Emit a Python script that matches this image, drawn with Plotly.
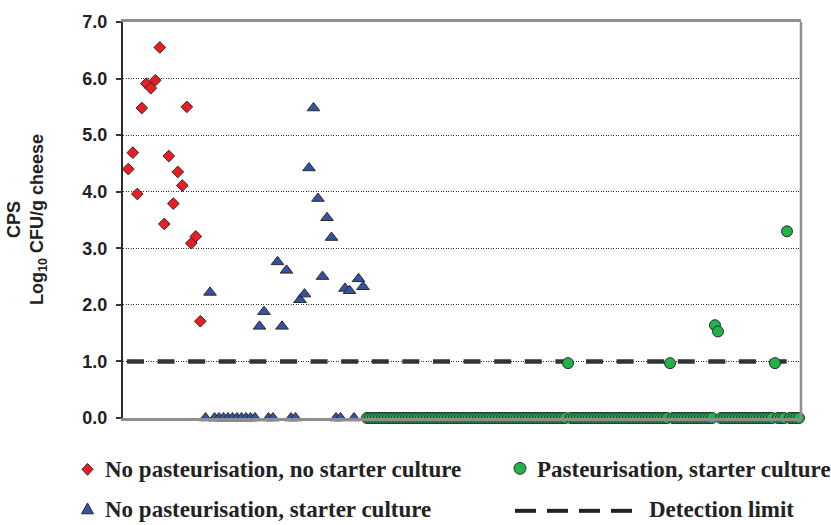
import plotly.graph_objects as go

# CPS counts (log10 CFU/g cheese) for each cheese sample, in sample order
no_past_no_starter = [4.40, 4.69, 3.96, 5.48, 5.91, 5.83, 5.97, 6.55, 3.43,
                      4.63, 3.79, 4.35, 4.11, 5.50, 3.09, 3.21, 1.71]

no_past_starter = [0.00, 2.22, 0.00, 0.00, 0.00, 0.00, 0.00, 0.00, 0.00, 0.00,
                   0.00, 0.00, 1.62, 1.88, 0.00, 0.00, 2.76, 1.62, 2.61, 0.00,
                   0.00, 2.09, 2.19, 4.42, 5.48, 3.88, 2.50, 3.54, 3.19, 0.00,
                   0.00, 2.29, 2.25, 0.00, 2.46, 2.32]

past_starter = [0.00, 0.00, 0.00, 0.00, 0.00, 0.00, 0.00, 0.00, 0.00, 0.00,
                0.00, 0.00, 0.00, 0.00, 0.00, 0.00, 0.00, 0.00, 0.00, 0.00,
                0.00, 0.00, 0.00, 0.00, 0.00, 0.00, 0.00, 0.00, 0.00, 0.00,
                0.00, 0.00, 0.00, 0.00, 0.00, 0.00, 0.00, 0.00, 0.00, 0.00,
                0.00, 0.00, 0.00, 0.00, 0.00, 0.00, 0.00, 0.00, 0.00, 0.00,
                0.00, 0.00, 0.00, 0.00, 0.00, 0.00, 0.00, 0.00, 0.00, 0.00,
                0.00, 0.00, 0.00, 0.00, 0.00, 0.00, 0.00, 0.97, 0.00, 0.00,
                0.00, 0.00, 0.00, 0.00, 0.00, 0.00, 0.00, 0.00, 0.00, 0.00,
                0.00, 0.00, 0.00, 0.00, 0.00, 0.00, 0.00, 0.00, 0.00, 0.00,
                0.00, 0.00, 0.00, 0.00, 0.00, 0.00, 0.00, 0.00, 0.00, 0.00,
                0.00, 0.97, 0.00, 0.00, 0.00, 0.00, 0.00, 0.00, 0.00, 0.00,
                0.00, 0.00, 0.00, 0.00, 0.00, 0.00, 1.64, 1.53, 0.00, 0.00,
                0.00, 0.00, 0.00, 0.00, 0.00, 0.00, 0.00, 0.00, 0.00, 0.00,
                0.00, 0.00, 0.00, 0.00, 0.00, 0.00, 0.97, 0.00, 0.00, 0.00,
                3.30, 0.00, 0.00, 0.00, 0.00, 0.00]

detection_limit = 1.0

y_tick_values = [0, 1, 2, 3, 4, 5, 6, 7]
y_tick_labels = ["0.0", "1.0", "2.0", "3.0", "4.0", "5.0", "6.0", "7.0"]

legend_labels = ["No pasteurisation, no starter culture",
                 "Pasteurisation, starter culture",
                 "No pasteurisation, starter culture",
                 "Detection limit"]

# ---------------------------------------------------------------------------
# Sample positions along the (unlabelled) sample axis
X_MAX = 226.0
UNPAST_STEP = 1.5   # unpasteurised samples are spaced wider
PAST_STEP = 1.0

red_x = [1.77 + UNPAST_STEP * i for i in range(len(no_past_no_starter))]
blue_x = [27.5 + UNPAST_STEP * i for i in range(len(no_past_starter))]
green_x = [81.33 + PAST_STEP * i for i in range(len(past_starter))]

RED = "#ec1c24"
BLUE = "#3553a4"
GREEN = "#1fb34a"
EDGE = "#2a2a2a"

fig = go.Figure()

# Detection limit
fig.add_trace(go.Scatter(
    x=[red_x[0] - 0.45, X_MAX], y=[detection_limit, detection_limit],
    mode="lines", line=dict(color="#333333", width=4.5, dash="17px,13.6px"),
    hoverinfo="skip", cliponaxis=False))

fig.add_trace(go.Scatter(
    x=red_x, y=no_past_no_starter, mode="markers", name=legend_labels[0],
    marker=dict(symbol="diamond", size=9, color=RED, line=dict(color=EDGE, width=1)),
    cliponaxis=False))

fig.add_trace(go.Scatter(
    x=blue_x, y=no_past_starter, mode="markers", name=legend_labels[2],
    marker=dict(symbol="triangle-up", size=11, color=BLUE, line=dict(color=EDGE, width=1)),
    cliponaxis=False))

fig.add_trace(go.Scatter(
    x=green_x, y=past_starter, mode="markers", name=legend_labels[1],
    marker=dict(symbol="circle", size=11, color=GREEN, line=dict(color=EDGE, width=1)),
    cliponaxis=False))

# ---------------------------------------------------------------------------
# Layout
W, H = 831, 525
PL, PR, PT, PB = 123, 801, 17, 418   # plot area edges in pixels


def fx(px):
    return (px - PL) / (PR - PL)


def fy(py):
    return (PB - py) / (PB - PT)


fig.update_layout(
    width=W, height=H, autosize=False,
    margin=dict(l=PL, r=W - PR, t=PT, b=H - PB, pad=0),
    plot_bgcolor="white", paper_bgcolor="white",
    showlegend=False,
    xaxis=dict(range=[0, X_MAX], showgrid=False, zeroline=False,
               showticklabels=False, ticks="", showline=True, mirror=True,
               linecolor="#8e8e8e", linewidth=2.5),
    yaxis=dict(range=[0, 7], tickvals=y_tick_values, ticktext=y_tick_labels,
               ticks="outside", ticklen=5, tickwidth=1.5, tickcolor="#333333",
               showline=True, linecolor="#2b2b2b", linewidth=2,
               showgrid=True, gridcolor="#333333", gridwidth=1, griddash="1px,1.5px",
               zeroline=False, ticklabelstandoff=5,
               tickfont=dict(family="Liberation Sans, Arial", size=18,
                             color="#222222", weight="bold")),
)

shapes = [
    # right border of the plot frame
    dict(type="line", xref="paper", yref="paper", x0=1, x1=1, y0=0, y1=1,
         line=dict(color="#8e8e8e", width=2.5)),
]

# legend symbols
cx, cy = 87.5, 470
shapes.append(dict(
    type="path", xref="paper", yref="paper",
    path=(f"M{fx(cx)},{fy(cy - 6)} L{fx(cx + 5.5)},{fy(cy)} "
          f"L{fx(cx)},{fy(cy + 6)} L{fx(cx - 5.5)},{fy(cy)} Z"),
    fillcolor=RED, line=dict(color=EDGE, width=1)))

cx, cy = 520, 469
shapes.append(dict(
    type="circle", xref="paper", yref="paper",
    x0=fx(cx - 6), x1=fx(cx + 6), y0=fy(cy + 6), y1=fy(cy - 6),
    fillcolor=GREEN, line=dict(color=EDGE, width=1)))

cx, cy = 87.5, 510
shapes.append(dict(
    type="path", xref="paper", yref="paper",
    path=(f"M{fx(cx)},{fy(cy - 6)} L{fx(cx + 6)},{fy(cy + 5)} "
          f"L{fx(cx - 6)},{fy(cy + 5)} Z"),
    fillcolor=BLUE, line=dict(color=EDGE, width=1)))

for x0 in [515, 547, 579, 611]:
    shapes.append(dict(type="line", xref="paper", yref="paper",
                       x0=fx(x0), x1=fx(x0 + 21), y0=fy(512), y1=fy(512),
                       line=dict(color="#222222", width=4)))

fig.update_layout(shapes=shapes)

legend_font = dict(family="Liberation Serif, Times New Roman, serif", size=23,
                   color="#222222", weight="bold")
legend_pos = [(103, 470), (535, 470), (103, 511), (647, 511)]
annotations = []
for label, (px, py) in zip(legend_labels, legend_pos):
    annotations.append(dict(text=label, xref="paper", yref="paper",
                            x=fx(px), y=fy(py), xanchor="left", yanchor="middle",
                            showarrow=False, font=legend_font))

# y-axis title
annotations.append(dict(
    text="<b>CPS</b><br><b>Log<sub>10</sub> CFU/g cheese</b>",
    xref="paper", yref="paper", x=fx(27), y=0.5,
    xanchor="center", yanchor="middle", textangle=-90, showarrow=False,
    font=dict(family="Liberation Sans, Arial", size=18, color="#222222")))

fig.update_layout(annotations=annotations)

fig.write_html("out.html")
